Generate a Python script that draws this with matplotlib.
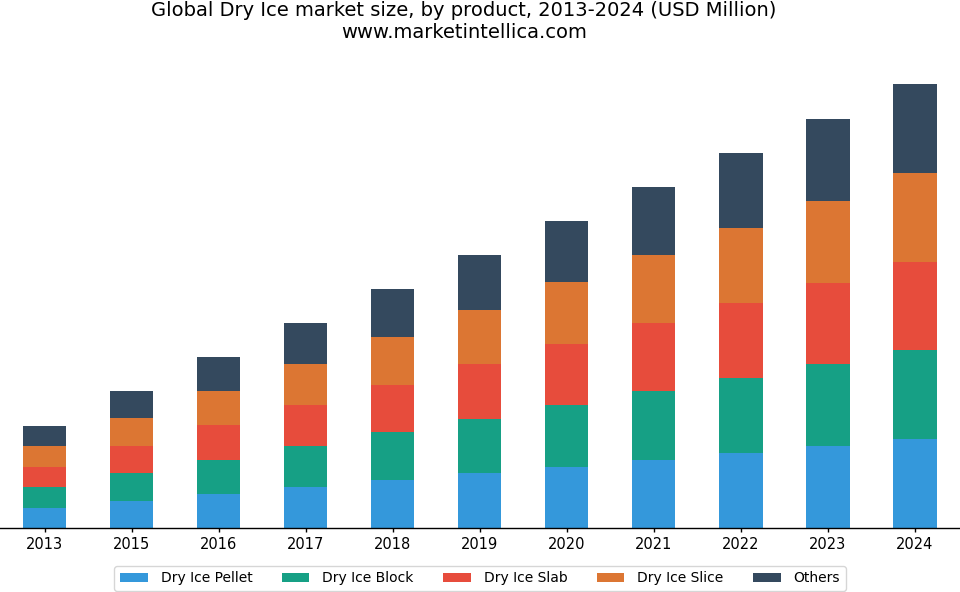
import matplotlib.pyplot as plt
import numpy as np

# Data (segment heights, equal for every product in a year)
years = ['2013', '2015', '2016', '2017', '2018', '2019', '2020', '2021', '2022', '2023', '2024']
pellet = [20.4, 27.4, 34.2, 41.0, 47.8, 54.6, 61.4, 68.3, 75.0, 81.8, 88.8]
block = [20.4, 27.4, 34.2, 41.0, 47.8, 54.6, 61.4, 68.3, 75.0, 81.8, 88.8]
slab = [20.4, 27.4, 34.2, 41.0, 47.8, 54.6, 61.4, 68.3, 75.0, 81.8, 88.8]
slice_ = [20.4, 27.4, 34.2, 41.0, 47.8, 54.6, 61.4, 68.3, 75.0, 81.8, 88.8]
others = [20.4, 27.4, 34.2, 41.0, 47.8, 54.6, 61.4, 68.3, 75.0, 81.8, 88.8]

series = [
    ('Dry Ice Pellet', pellet, '#3498db'),
    ('Dry Ice Block', block, '#16a085'),
    ('Dry Ice Slab', slab, '#e74c3c'),
    ('Dry Ice Slice', slice_, '#dc7633'),
    ('Others', others, '#34495e'),
]

fig = plt.figure(figsize=(9.6, 5.92), dpi=100)
ax = fig.add_axes([0, (592 - 528) / 592, 1, (528 - 60) / 592])

x = np.arange(len(years))
bottom = np.zeros(len(years))
for name, vals, col in series:
    ax.bar(x, vals, width=0.5, bottom=bottom, color=col, label=name)
    bottom += np.array(vals)

ax.set_xlim(-0.514, 10.52)
ax.set_ylim(0, 468)
ax.set_xticks(x)
ax.set_xticklabels(years, fontsize=10.5)
ax.tick_params(axis='x', length=3, width=1, pad=3.5)
ax.set_yticks([])
for s in ['top', 'left', 'right']:
    ax.spines[s].set_visible(False)
ax.spines['bottom'].set_linewidth(1)

# titel in twee regels
fig.text(0.4833, 1 - 16.5 / 592, 'Global Dry Ice market size, by product, 2013-2024 (USD Million)',
         ha='center', va='baseline', fontsize=14)
fig.text(0.4833, 1 - 37.5 / 592, 'www.marketintellica.com',
         ha='center', va='baseline', fontsize=14)

leg = fig.legend(loc='lower center', bbox_to_anchor=(0.5, 1 / 592), ncol=5, fontsize=10,
                 frameon=True, handlelength=2.0, handleheight=0.68, handletextpad=0.94,
                 columnspacing=2.1, borderpad=0.4, borderaxespad=0, fancybox=True)
leg.get_frame().set_edgecolor('#cccccc')

fig.savefig('out.png', dpi=100)
